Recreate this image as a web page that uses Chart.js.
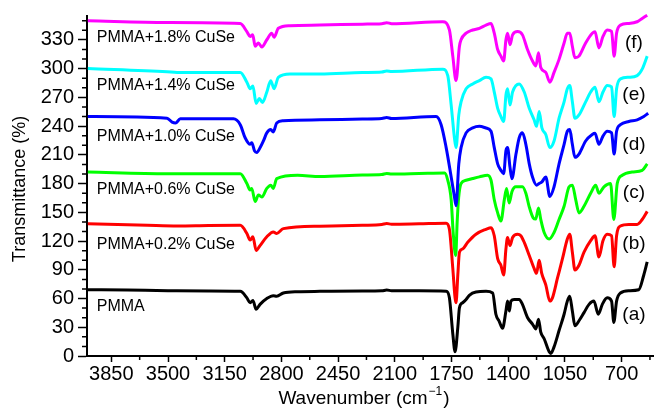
<!DOCTYPE html>
<html>
<head>
<meta charset="utf-8">
<script src="https://cdn.jsdelivr.net/npm/chart.js@4/dist/chart.umd.min.js"></script>
<style>
    html, body { margin: 0; padding: 0; background: #fff; }
    #wrap { width: 654px; height: 410px; }
</style>
</head>
<body>
<div id="wrap"><canvas id="myChart" width="654" height="410"></canvas></div>
<script>
// wavenumber (cm-1) / transmittance (%), one pair per sample
const waveA = [3995, 3750, 3500, 3250, 3054, 3013, 2993, 2976, 2956, 2932, 2890, 2850, 2829, 2788, 2700, 2562, 2300, 2180, 2150, 2120, 1950, 1783, 1763, 1742, 1728, 1711, 1701, 1681, 1660, 1640, 1599, 1537, 1496, 1476, 1455, 1435, 1414, 1404, 1393, 1383, 1363, 1332, 1312, 1281, 1250, 1229, 1213, 1199, 1178, 1147, 1137, 1117, 1086, 1055, 1035, 1020, 1004, 988, 963, 932, 901, 871, 844, 819, 789, 762, 748, 731, 707, 655, 594, 563, 542];
const transA = [69.3, 68.8, 68.2, 67.8, 67.5, 60.7, 55.6, 58, 48.8, 53.9, 60, 63, 62.4, 65.8, 67.2, 67.5, 67.8, 68, 68.8, 68.2, 68, 67.5, 60.7, 23.2, 4.4, 30, 50.4, 55.6, 59, 63.4, 66.8, 67.5, 65.8, 43.6, 36, 29, 47, 57.3, 47, 57.3, 59, 59, 53.9, 40.2, 33.4, 28.3, 38.5, 24.9, 18, 4.4, 2.7, 9.5, 26.6, 43.6, 57.3, 62.4, 47, 31.7, 36.8, 45.3, 53.9, 57.3, 43.6, 53.9, 60.7, 57.3, 35.1, 57.3, 65.8, 68.2, 69.2, 84.6, 98.2];

const waveB = [3995, 3627, 3442, 3250, 3054, 3013, 2993, 2976, 2956, 2932, 2890, 2850, 2829, 2788, 2562, 2300, 2180, 2150, 2120, 1950, 1783, 1763, 1742, 1728, 1722, 1711, 1701, 1681, 1650, 1599, 1537, 1506, 1486, 1465, 1445, 1428, 1414, 1404, 1389, 1373, 1342, 1322, 1301, 1270, 1240, 1225, 1209, 1193, 1168, 1143, 1127, 1096, 1065, 1035, 1020, 1004, 988, 963, 932, 891, 864, 840, 815, 789, 762, 746, 731, 707, 655, 604, 573, 542];
const transB = [138.1, 136.4, 135.7, 136.2, 136.4, 127.9, 121, 124.5, 110.2, 115.3, 124.5, 129.6, 127.9, 133, 135.5, 136.5, 137.3, 138.3, 137.6, 138, 138.5, 132.3, 91.4, 60.7, 55.6, 84.6, 108.4, 111.8, 118.7, 127.2, 132.3, 134, 125.5, 101.6, 94.8, 84.6, 111.8, 123.8, 115.3, 123.8, 127.2, 125.5, 118.7, 105, 91.4, 86.3, 99.9, 86.3, 74.3, 57.3, 60.7, 81.2, 101.6, 122.1, 127.2, 108.4, 89.7, 94.8, 108.4, 120.4, 125.5, 103.3, 120.4, 127.2, 125.5, 93.1, 125.5, 135.7, 137.4, 137.4, 142.5, 151];

const waveC = [3995, 3506, 3054, 3013, 2993, 2983, 2962, 2942, 2921, 2890, 2866, 2850, 2829, 2700, 2562, 2300, 2180, 2150, 2120, 1950, 1793, 1773, 1752, 1740, 1724, 1715, 1706, 1691, 1660, 1619, 1578, 1527, 1506, 1486, 1465, 1445, 1424, 1410, 1394, 1377, 1353, 1312, 1291, 1271, 1246, 1230, 1213, 1199, 1178, 1147, 1117, 1086, 1055, 1024, 1004, 983, 963, 932, 891, 860, 840, 809, 768, 748, 727, 696, 635, 573, 542];
const transC = [192, 190.3, 190.3, 180.1, 173.3, 175, 161.3, 168.2, 166, 175, 178.4, 175, 185.2, 188.6, 187.5, 189, 189.5, 190.6, 190, 190.5, 191, 183.5, 163.1, 130, 105, 140, 165, 180.1, 183.5, 185.3, 187, 188.7, 183.5, 163.1, 149.4, 140.9, 163.1, 175, 159.7, 171.6, 176.7, 176.7, 169.9, 156.3, 144.3, 143, 154.6, 142.6, 129, 122.2, 129, 142.6, 156.3, 176.7, 178.4, 163.1, 149.4, 156.3, 169.9, 178.4, 169.9, 176.7, 180.1, 142.6, 180.1, 188.7, 192.1, 193.8, 200.6];

const waveD = [3995, 3506, 3475, 3454, 3424, 3096, 3054, 3024, 2993, 2983, 2966, 2952, 2931, 2911, 2890, 2866, 2850, 2829, 2788, 2562, 2300, 2180, 2150, 2120, 1845, 1814, 1783, 1752, 1732, 1722, 1705, 1691, 1660, 1619, 1578, 1537, 1506, 1486, 1465, 1445, 1428, 1414, 1404, 1389, 1377, 1352, 1332, 1312, 1291, 1270, 1250, 1225, 1209, 1192, 1168, 1143, 1117, 1086, 1055, 1035, 1020, 1004, 988, 963, 922, 881, 864, 840, 815, 789, 762, 746, 731, 707, 655, 604, 563, 536];
const transD = [250, 248.3, 244.2, 243.2, 247.6, 247.6, 241.5, 227.9, 221, 222.7, 214.2, 212.5, 217.6, 224.5, 233, 236.4, 234, 243.2, 245.6, 246.6, 247.5, 248, 249, 248, 250, 241.5, 217.6, 187, 166.5, 157, 200.6, 217.6, 233, 238.1, 239.8, 238.1, 234.7, 217.6, 200.6, 193.8, 190.4, 214.2, 217.6, 197.2, 185.2, 210.8, 227.9, 233, 221, 200.6, 186.9, 178.4, 180.1, 181.8, 186.9, 166.5, 176.7, 200.6, 221, 234.7, 236.4, 221, 207.4, 210.8, 224.5, 231.3, 232.5, 221, 229.6, 234.7, 233, 210.8, 234.7, 241.5, 244.9, 246.6, 250, 253.4];

const waveE = [3995, 3506, 3444, 3054, 3013, 2993, 2976, 2956, 2936, 2917, 2890, 2866, 2845, 2819, 2747, 2562, 2300, 2180, 2150, 2120, 1804, 1773, 1752, 1732, 1722, 1705, 1691, 1660, 1619, 1578, 1537, 1506, 1486, 1465, 1445, 1428, 1414, 1404, 1389, 1373, 1332, 1301, 1270, 1240, 1225, 1209, 1192, 1168, 1143, 1117, 1086, 1055, 1035, 1020, 1004, 988, 963, 922, 891, 864, 840, 815, 789, 762, 746, 731, 707, 655, 604, 573, 542];
const transE = [300.2, 296.8, 296.1, 296.1, 285.9, 279, 281.8, 263.7, 268.8, 264.7, 275.6, 287.5, 279, 291, 294.4, 294.4, 296, 296.5, 297.6, 297, 299.5, 292.7, 262, 227.9, 217.6, 251.7, 265.4, 279, 284.1, 287.5, 291, 289.3, 275.6, 258.6, 250, 244.9, 272.2, 279, 262, 275.6, 284.1, 275.6, 258.6, 246.6, 239.8, 255.2, 238.1, 231.3, 217.6, 224.5, 248.3, 265.4, 279, 282.4, 265.4, 248.3, 251.7, 265.4, 275.6, 280.7, 265.4, 275.6, 282.4, 281, 250, 279, 289.3, 291, 292.7, 299.5, 313.1];

const waveF = [3995, 3506, 3054, 3013, 2993, 2977, 2962, 2942, 2921, 2890, 2860, 2845, 2819, 2747, 2562, 2300, 2180, 2150, 2120, 1804, 1763, 1742, 1722, 1701, 1691, 1660, 1619, 1578, 1537, 1506, 1486, 1465, 1445, 1428, 1414, 1404, 1389, 1373, 1342, 1312, 1281, 1250, 1229, 1213, 1199, 1168, 1143, 1117, 1086, 1055, 1035, 1020, 1004, 988, 963, 922, 881, 864, 840, 815, 789, 762, 746, 731, 707, 655, 604, 573, 542];
const transF = [350, 348.3, 347.2, 338.7, 333.6, 335.3, 323.4, 326.8, 322.7, 330.2, 337, 332.9, 342.1, 344.9, 345.5, 346.5, 347, 348, 347, 349, 340.4, 313.1, 287.6, 323.4, 330.2, 337, 340.4, 342.1, 345.5, 347.2, 337, 320, 313.1, 308, 330.2, 337, 325.1, 335.3, 338.7, 335.3, 320, 308, 302.9, 316.5, 301.2, 296.1, 285.9, 296.1, 309.7, 326.8, 337, 337, 323.4, 311.4, 313.1, 326.8, 337, 338.5, 321.7, 333.6, 340.4, 339, 313.1, 337, 345.5, 347.2, 349, 352.4, 355.8];

const sampleNames = ['PMMA', 'PMMA+0.2% CuSe', 'PMMA+0.6% CuSe', 'PMMA+1.0% CuSe', 'PMMA+1.4% CuSe', 'PMMA+1.8% CuSe'];
const sampleTags = ['(a)', '(b)', '(c)', '(d)', '(e)', '(f)'];
const lineColors = ['#000000', '#ff0000', '#00ff00', '#0000ff', '#00ffff', '#ff00ff'];

// where the in-plot texts sit, in data units
const nameWave = 3940;
const nameTrans = [51.2, 116, 173.3, 229.6, 282.5, 332];
const tagWave = 624;
const tagTrans = [42.7, 117, 170, 221, 272.3, 326.8];

const xTicks = [700, 1050, 1400, 1750, 2100, 2450, 2800, 3150, 3500, 3850];
const yTicks = [0, 30, 60, 90, 120, 150, 180, 210, 240, 270, 300, 330];

const FONT = '"Liberation Sans", Arial, Helvetica, sans-serif';

const waves = [waveA, waveB, waveC, waveD, waveE, waveF];
const trans = [transA, transB, transC, transD, transE, transF];

const datasets = waves.map((w, i) => ({
    label: sampleNames[i],
    data: w.map((x, j) => ({ x: x, y: trans[i][j] })),
    borderColor: lineColors[i],
    backgroundColor: lineColors[i],
    borderWidth: 3,
    pointRadius: 0,
    cubicInterpolationMode: 'monotone',
    clip: false,
    order: 6 - i
}));

// minor ticks, titles and in-plot labels
const extras = {
    id: 'extras',
    afterDraw(chart) {
        const ctx = chart.ctx;
        const x = chart.scales.x, y = chart.scales.y;
        ctx.save();
        ctx.strokeStyle = '#000';
        ctx.lineWidth = 1.5;
        ctx.beginPath();
        for (let v = 525; v < 4000; v += 350) {
            const px = x.getPixelForValue(v);
            ctx.moveTo(px, y.bottom);
            ctx.lineTo(px, y.bottom + 4);
        }
        for (let v = 10; v <= 350; v += 10) {
            if (v % 30 === 0) continue;
            const py = y.getPixelForValue(v);
            ctx.moveTo(x.left, py);
            ctx.lineTo(x.left - 5, py);
        }
        ctx.stroke();

        ctx.fillStyle = '#000';
        ctx.textBaseline = 'middle';
        ctx.font = '16px ' + FONT;
        ctx.textAlign = 'left';
        sampleNames.forEach((n, i) => {
            ctx.fillText(n, x.getPixelForValue(nameWave), y.getPixelForValue(nameTrans[i]));
        });
        ctx.font = '19px ' + FONT;
        ctx.textAlign = 'center';
        sampleTags.forEach((t, i) => {
            ctx.fillText(t, x.getPixelForValue(tagWave), y.getPixelForValue(tagTrans[i]));
        });

        // y title
        ctx.save();
        ctx.translate(20, 189);
        ctx.rotate(-Math.PI / 2);
        ctx.font = '18px ' + FONT;
        ctx.textAlign = 'center';
        ctx.fillText('Transmittance (%)', 0, 0);
        ctx.restore();

        // x title with superscript
        ctx.textBaseline = 'alphabetic';
        ctx.textAlign = 'left';
        const main = 'Wavenumber (cm';
        const sup = '\u22121';
        ctx.font = '19px ' + FONT;
        const w1 = ctx.measureText(main).width;
        const w3 = ctx.measureText(')').width;
        ctx.font = '12px ' + FONT;
        const w2 = ctx.measureText(sup).width;
        let sx = 364 - (w1 + w2 + w3 + 2) / 2;
        const base = 404;
        ctx.font = '19px ' + FONT;
        ctx.fillText(main, sx, base);
        sx += w1 + 1;
        ctx.font = '12px ' + FONT;
        ctx.fillText(sup, sx, base - 9);
        sx += w2 + 1;
        ctx.font = '19px ' + FONT;
        ctx.fillText(')', sx, base);
        ctx.restore();
    }
};

const myChart = new Chart(document.getElementById('myChart'), {
    type: 'line',
    data: { datasets: datasets },
    options: {
        responsive: false,
        animation: false,
        layout: { padding: { top: 10, right: 0, left: 0, bottom: 0 } },
        plugins: {
            legend: { display: false },
            tooltip: { enabled: false }
        },
        scales: {
            x: {
                type: 'linear',
                reverse: true,
                min: 500,
                max: 4000,
                afterBuildTicks: s => { s.ticks = xTicks.map(v => ({ value: v })); },
                afterFit: s => { s.height = 54; },
                ticks: { color: '#000', font: { family: FONT, size: 20 }, padding: 0, maxRotation: 0, autoSkip: false, callback: v => String(v) },
                grid: { drawOnChartArea: false, drawTicks: true, tickLength: 6, tickColor: '#000', tickWidth: 1.5 },
                border: { display: true, color: '#000', width: 2 }
            },
            y: {
                min: 0,
                max: 355,
                afterBuildTicks: s => { s.ticks = yTicks.map(v => ({ value: v })); },
                afterFit: s => { s.width = 87; },
                ticks: { color: '#000', font: { family: FONT, size: 20 }, padding: 4, autoSkip: false, callback: v => String(v) },
                grid: { drawOnChartArea: false, drawTicks: true, tickLength: 9, tickColor: '#000', tickWidth: 1.5 },
                border: { display: true, color: '#000', width: 2 }
            }
        }
    },
    plugins: [extras]
});
</script>
</body>
</html>
